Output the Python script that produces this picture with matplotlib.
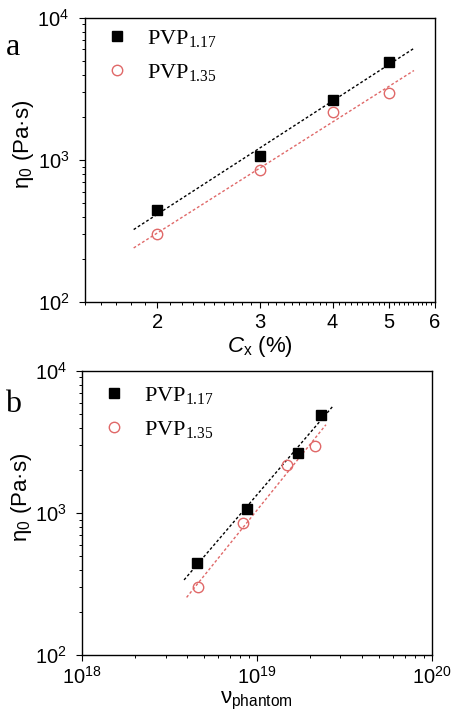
import numpy as np
import matplotlib
matplotlib.use("Agg")
import matplotlib.pyplot as plt
from matplotlib.ticker import FixedLocator, FixedFormatter, LogLocator, NullFormatter

plt.rcParams['font.family'] = ['Liberation Sans', 'DejaVu Sans']
plt.rcParams['mathtext.fontset'] = 'custom'
plt.rcParams['mathtext.rm'] = 'Liberation Sans'
plt.rcParams['mathtext.it'] = 'Liberation Sans:italic'
plt.rcParams['mathtext.bf'] = 'Liberation Sans:bold'

# ---- data ----
series_labels = [r'PVP$_{\mathdefault{1.17}}$', r'PVP$_{\mathdefault{1.35}}$']
cx = [2, 3, 4, 5]
eta_117 = [445, 1070, 2640, 4930]
eta_135 = [300, 850, 2190, 2950]
nu_117 = [4.52e18, 8.73e18, 1.71e19, 2.32e19]
nu_135 = [4.62e18, 8.36e18, 1.49e19, 2.14e19]
fit_range_a = [1.82, 5.52]
fit_range_b_117 = [3.83e18, 2.73e19]
fit_range_b_135 = [3.96e18, 2.48e19]
cx_ticks = [2, 3, 4, 5, 6]

black = '#000000'
red = '#e06868'

fig = plt.figure(figsize=(4.56, 7.14), dpi=100)
ax1 = fig.add_axes([0.186, 0.577, 0.768, 0.3978])
ax2 = fig.add_axes([0.180, 0.0826, 0.767, 0.3978])

def fitline(ax, x, y, xr, color):
    p = np.polyfit(np.log10(x), np.log10(y), 1)
    xx = np.logspace(np.log10(xr[0]), np.log10(xr[1]), 50)
    ax.plot(xx, 10 ** np.polyval(p, np.log10(xx)), linestyle=(0, (2, 1.6)),
            color=color, lw=1.0, zorder=1)

def style(ax):
    ax.set_yscale('log')
    ax.set_ylim(1e2, 1e4)
    for s in ax.spines.values():
        s.set_linewidth(1.0)
    ax.tick_params(which='major', direction='out', length=4, width=0.8,
                   labelsize=14.5, top=False, right=False, pad=4)
    ax.tick_params(axis='y', which='major', pad=7)
    ax.tick_params(which='minor', direction='out', length=2.5, width=0.7,
                   top=False, right=False)
    ax.yaxis.set_minor_locator(LogLocator(base=10, subs=np.arange(2, 10)))
    ax.yaxis.set_minor_formatter(NullFormatter())
    ax.set_ylabel(r'η$_{\mathdefault{0}}$ (Pa·s)', fontsize=16)
    ax.yaxis.set_label_coords(-0.138, 0.556)

def legend(ax, h, ytop):
    ax.legend(h, series_labels, loc='upper left', bbox_to_anchor=(0.054, ytop),
              frameon=False, prop={'family': 'Liberation Serif', 'size': 16},
              handletextpad=0.75, labelspacing=0.55, handlelength=1.2,
              borderaxespad=0.0, borderpad=0.0)

# ---- panel a ----
ax1.set_xscale('log')
fitline(ax1, cx, eta_117, fit_range_a, black)
fitline(ax1, cx, eta_135, fit_range_a, red)
h1, = ax1.plot(cx, eta_117, 's', color=black, ms=7, zorder=3)
h2, = ax1.plot(cx, eta_135, 'o', mfc='none', mec=red, mew=1.0, ms=7.5, zorder=3)
style(ax1)
ax1.set_xlim(1.5, 6)
ax1.xaxis.set_major_locator(FixedLocator(cx_ticks))
ax1.xaxis.set_major_formatter(FixedFormatter([str(t) for t in cx_ticks]))
ax1.xaxis.set_minor_locator(FixedLocator(np.round(np.arange(1.5, 6.01, 0.1), 2)))
ax1.xaxis.set_minor_formatter(NullFormatter())
ax1.set_xlabel(r'$\mathit{C}_{\mathdefault{x}}$ (%)', fontsize=16, labelpad=1)
legend(ax1, [h1, h2], 0.964)
fig.text(0.028, 0.934, 'a', family='Liberation Serif', fontsize=23,
         ha='center', va='center')

# ---- panel b ----
ax2.set_xscale('log')
fitline(ax2, nu_117, eta_117, fit_range_b_117, black)
fitline(ax2, nu_135, eta_135, fit_range_b_135, red)
g1, = ax2.plot(nu_117, eta_117, 's', color=black, ms=7, zorder=3)
g2, = ax2.plot(nu_135, eta_135, 'o', mfc='none', mec=red, mew=1.0, ms=7.5, zorder=3)
style(ax2)
ax2.set_xlim(1e18, 1e20)
ax2.xaxis.set_minor_locator(LogLocator(base=10, subs=np.arange(2, 10)))
ax2.xaxis.set_minor_formatter(NullFormatter())
ax2.set_xlabel(r'ν$_{\mathdefault{phantom}}$', fontsize=16, labelpad=1)
legend(ax2, [g1, g2], 0.95)
fig.text(0.028, 0.434, 'b', family='Liberation Serif', fontsize=23,
         ha='center', va='center')

fig.savefig('out.png', dpi=100)
